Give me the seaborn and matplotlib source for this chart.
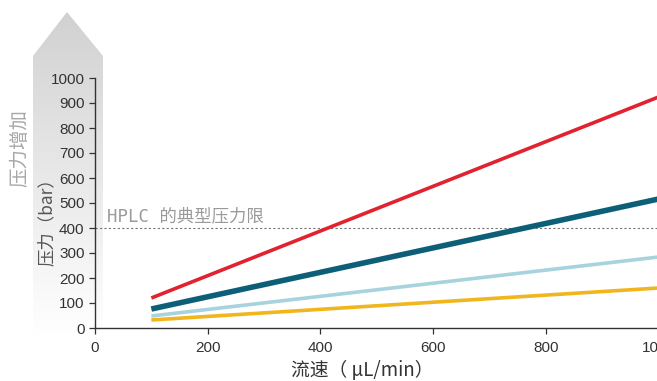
import matplotlib
matplotlib.use("Agg")
import matplotlib.pyplot as plt
import numpy as np
import pandas as pd
import seaborn as sns
from matplotlib.patches import Polygon

# ---- data ----
flow = [100, 1000]
red_vals = [120, 924]
teal_vals = [76, 516]
lightblue_vals = [48, 284]
yellow_vals = [32, 160]
series_names = ["red", "teal", "lightblue", "yellow"]
series_vals = [red_vals, teal_vals, lightblue_vals, yellow_vals]
series_colors = ["#e2222f", "#0d5f78", "#a7d3df", "#f1b61d"]
series_widths = [2.6, 4.0, 2.6, 2.6]
xticks = [0, 200, 400, 600, 800, 1000]
yticks = list(range(0, 1001, 100))
hplc_limit = 400

rows = []
for name, vals in zip(series_names, series_vals):
    for f, v in zip(flow, vals):
        rows.append({"flow": f, "pressure": v, "series": name})
df = pd.DataFrame(rows)

sns.set_theme(style="ticks")
plt.rcParams["font.family"] = ["Liberation Sans", "Noto Sans CJK SC", "DejaVu Sans"]

W, H = 657, 381
fig = plt.figure(figsize=(W / 100, H / 100), dpi=100)

# background arrow with gradient
bg = fig.add_axes([0, 0, 1, 1], zorder=0)
bg.set_xlim(0, W)
bg.set_ylim(H, 0)
bg.axis("off")
grad = np.linspace(0.82, 1.0, 256).reshape(-1, 1)
img = bg.imshow(np.dstack([grad, grad, grad]), extent=[33, 103, 335, 12],
                aspect="auto", interpolation="bilinear", zorder=0)
arrow = Polygon([[67, 12], [103, 56], [103, 335], [33, 335], [33, 56]],
                closed=True, facecolor="none", edgecolor="none", transform=bg.transData)
bg.add_patch(arrow)
img.set_clip_path(arrow)

ax = fig.add_axes([95 / W, 1 - 328 / H, (658.5 - 95) / W, (328 - 78) / H], zorder=1)
ax.patch.set_alpha(0)

palette = dict(zip(series_names, series_colors))
sns.lineplot(data=df, x="flow", y="pressure", hue="series", palette=palette,
             legend=False, ax=ax, sort=False)
for line, lw in zip(ax.get_lines(), series_widths):
    line.set_linewidth(lw)
    line.set_solid_capstyle("butt")

ax.axhline(hplc_limit, color="#777777", lw=0.8, ls=(0, (2, 2)), zorder=0.5)
ax.set_xlim(0, 1000)
ax.set_ylim(0, 1000)
ax.set_xticks(xticks)
ax.set_yticks(yticks)
ax.tick_params(axis="both", labelsize=11, colors="#333333", length=4.5, width=0.9,
               direction="out", pad=3)
ax.tick_params(axis="x", pad=5)
for s in ["top", "right"]:
    ax.spines[s].set_visible(False)
for s in ["left", "bottom"]:
    ax.spines[s].set_color("#333333")
    ax.spines[s].set_linewidth(1.0)
ax.set_xlabel("")
ax.set_ylabel("")

cjk = ["Noto Sans CJK SC", "DejaVu Sans"]
ax.text(12 / (658.5 - 95) * 1000, 410, "HPLC 的典型压力限", color="#9a9a9a",
        fontsize=12.5, family=["DejaVu Sans Mono", "Noto Sans CJK SC"], va="bottom", ha="left")

fig.text(362 / W, 1 - 370 / H, "流速（ μL/min）", ha="center", va="center",
         fontsize=13.5, color="#333333", family=["Noto Sans CJK SC", "DejaVu Sans Mono"])
fig.text(47 / W, 1 - 218 / H, "压力（bar）", ha="center", va="center", rotation=90,
         fontsize=12.5, color="#555555", family=["Noto Sans CJK SC", "DejaVu Sans"])
fig.text(20 / W, 1 - 148 / H, "压力增加", ha="center", va="center", rotation=90,
         fontsize=14, color="#a8a8a8", family=cjk)

fig.savefig("out.png", dpi=100)
